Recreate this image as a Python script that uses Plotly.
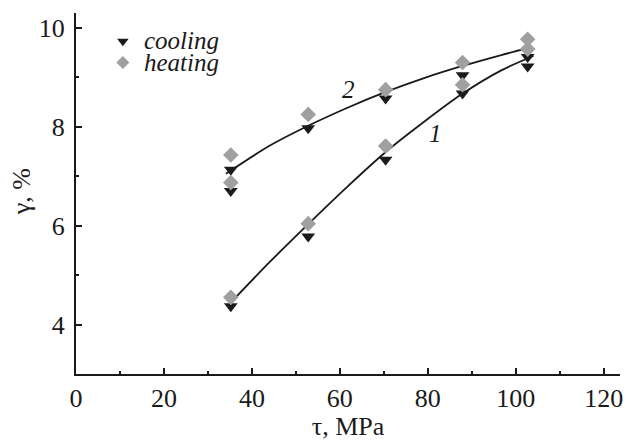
import plotly.graph_objects as go

# Data
tau = [35.2, 52.8, 70.4, 87.9, 102.7]

cool_1 = [4.37, 5.78, 7.33, 8.67, 9.22]
heat_1 = [4.55, 6.04, 7.61, 8.85, 9.57]
cool_2 = [7.13, 7.97, 8.57, 9.04, 9.41]
cool_2b_x = [35.2]
cool_2b = [6.70]
heat_2 = [7.43, 8.25, 8.75, 9.30, 9.77]
heat_2b_x = [35.2]
heat_2b = [6.87]

# fitted curves
curve1_x = [36.0, 43.9, 52.8, 61.6, 70.3, 79.3, 87.9, 96.7, 104.0]
curve1_y = [4.52, 5.25, 6.03, 6.78, 7.48, 8.11, 8.67, 9.14, 9.43]
curve2_x = [34.1, 43.9, 52.8, 61.6, 70.3, 79.3, 87.9, 96.7, 103.1]
curve2_y = [7.05, 7.61, 8.02, 8.38, 8.70, 8.99, 9.23, 9.45, 9.60]

series_names = ["cooling", "heating"]
xticks = [0, 20, 40, 60, 80, 100, 120]
yticks = [4, 6, 8, 10]

FONT = "Liberation Serif"
BLACK = "#1a1a1a"
GREY = "#a0a0a0"

fig = go.Figure()
fig.add_trace(go.Scatter(x=curve1_x, y=curve1_y, mode="lines", line=dict(color=BLACK, width=1.8, shape="spline", smoothing=0.8), showlegend=False))
fig.add_trace(go.Scatter(x=curve2_x, y=curve2_y, mode="lines", line=dict(color=BLACK, width=1.8, shape="spline", smoothing=0.8), showlegend=False))

for xs, ys in [(tau, cool_1), (tau, cool_2), (cool_2b_x, cool_2b)]:
    fig.add_trace(go.Scatter(x=xs, y=ys, mode="markers", showlegend=False,
                             marker=dict(symbol="triangle-down", size=12, color=BLACK)))
for xs, ys in [(tau, heat_1), (tau, heat_2), (heat_2b_x, heat_2b)]:
    fig.add_trace(go.Scatter(x=xs, y=ys, mode="markers", showlegend=False,
                             marker=dict(symbol="diamond", size=12, color=GREY)))

# legend symbols (text drawn as annotations)
fig.add_trace(go.Scatter(x=[None], y=[None], mode="markers", name=" ", legend="legend",
                         marker=dict(symbol="triangle-down", size=10, color=BLACK)))
fig.add_trace(go.Scatter(x=[None], y=[None], mode="markers", name=" ", legend="legend2",
                         marker=dict(symbol="diamond", size=10, color=GREY)))

W, H = 629, 441
L, R, T, B = 76, 6, 13, 63
pw, ph = W - L - R, H - T - B

def px2paper(px, py):
    return (px - L) / pw, (H - B - py) / ph

lx, ly = px2paper(103, 41.5)
lx2, ly2 = px2paper(103, 63)
tx, ty = px2paper(142, 40.5)
tx2, ty2 = px2paper(142, 63.5)

smallfont = dict(family=FONT, size=8, color=BLACK)
TICKF = dict(family=FONT, size=26, color=BLACK)
fig.update_layout(
    width=W, height=H,
    margin=dict(l=L, r=R, t=T, b=B),
    plot_bgcolor="white", paper_bgcolor="white",
    font=dict(family=FONT, size=24, color=BLACK),
    legend=dict(x=lx, y=ly, xanchor="left", yanchor="middle", bgcolor="rgba(0,0,0,0)",
                font=smallfont, itemwidth=30, tracegroupgap=0),
    legend2=dict(x=lx2, y=ly2, xanchor="left", yanchor="middle", bgcolor="rgba(0,0,0,0)",
                 font=smallfont, itemwidth=30, tracegroupgap=0),
    xaxis=dict(range=[0, 123.7], tickvals=xticks, showgrid=False, zeroline=False,
               showline=True, linecolor=BLACK, linewidth=2,
               ticks="inside", ticklen=6, tickwidth=1.5, tickcolor=BLACK,
               minor=dict(dtick=10, tick0=0, ticks="inside", ticklen=3, tickwidth=1.5, tickcolor=BLACK),
               title=dict(text="τ, MPa", font=TICKF, standoff=4),
               tickfont=TICKF),
    yaxis=dict(range=[3, 10.3], tickvals=yticks, showgrid=False, zeroline=False,
               showline=True, linecolor=BLACK, linewidth=2,
               ticks="inside", ticklen=6, tickwidth=1.5, tickcolor=BLACK,
               ticklabelstandoff=4,
               minor=dict(dtick=1, tick0=0, ticks="inside", ticklen=3, tickwidth=1.5, tickcolor=BLACK),
               tickfont=TICKF),
    annotations=[
        dict(text="γ, %", textangle=-90, xref="paper", yref="paper",
             x=(21 - L) / pw, y=(H - B - 194) / ph, xanchor="center", yanchor="middle",
             showarrow=False, font=TICKF),
        dict(text="<i>%s</i>" % series_names[0], xref="paper", yref="paper", x=tx, y=ty,
             xanchor="left", yanchor="middle", showarrow=False,
             font=dict(family=FONT, size=25, color=BLACK)),
        dict(text="<i>%s</i>" % series_names[1], xref="paper", yref="paper", x=tx2, y=ty2,
             xanchor="left", yanchor="middle", showarrow=False,
             font=dict(family=FONT, size=25, color=BLACK)),
        dict(text="<i>2</i>", xref="x", yref="y", x=(350 - L) / (pw / 123.7),
             y=10 - (90 - 27.7) / 50, showarrow=False, font=dict(family=FONT, size=25, color=BLACK)),
        dict(text="<i>1</i>", xref="x", yref="y", x=(437 - L) / (pw / 123.7),
             y=10 - (135 - 27.7) / 50, showarrow=False, font=dict(family=FONT, size=25, color=BLACK)),
    ],
)

fig.write_html("out.html", config={"displayModeBar": False},
               post_script="document.body.style.margin='0';document.body.style.overflow='hidden';")
